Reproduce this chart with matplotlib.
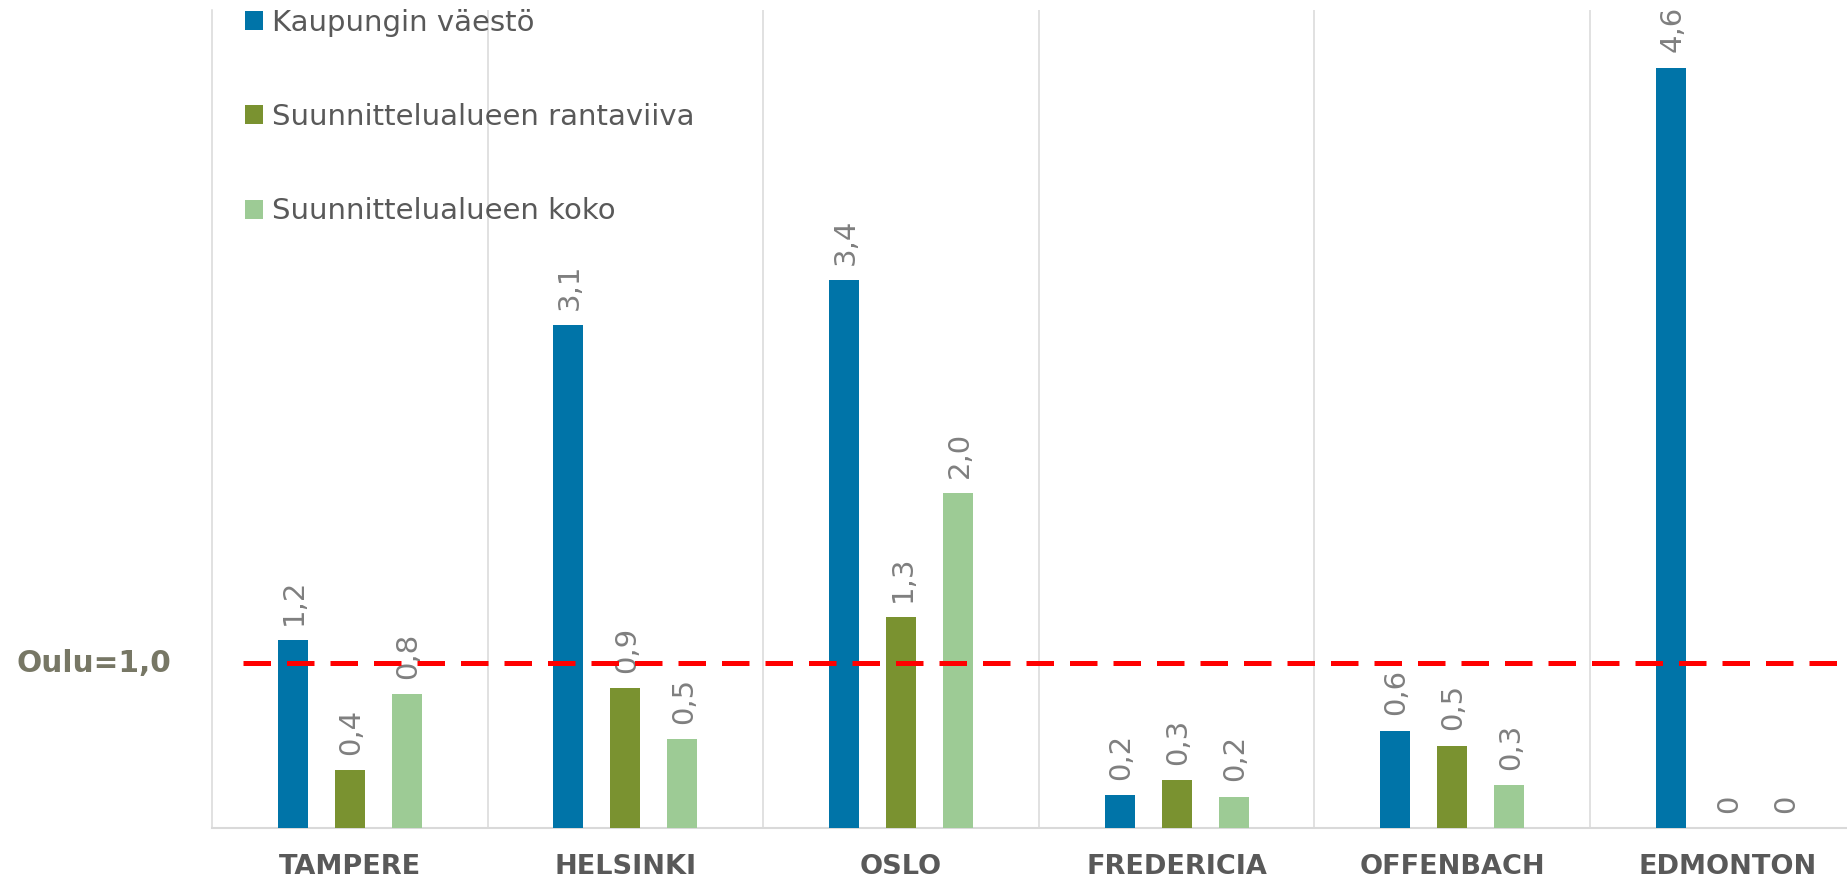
import matplotlib
matplotlib.use("Agg")
import matplotlib.pyplot as plt
import matplotlib.transforms as mtransforms
from matplotlib.patches import Patch
import numpy as np

# data (bar heights relative to Oulu = 1.0)
cities = ["TAMPERE", "HELSINKI", "OSLO", "FREDERICIA", "OFFENBACH", "EDMONTON"]
series_names = ["Kaupungin väestö", "Suunnittelualueen rantaviiva", "Suunnittelualueen koko"]
vaesto = [1.14, 3.05, 3.32, 0.20, 0.59, 4.61]
rantaviiva = [0.35, 0.85, 1.28, 0.29, 0.50, 0.0]
koko = [0.81, 0.54, 2.03, 0.19, 0.26, 0.0]
vaesto_labels = ["1,2", "3,1", "3,4", "0,2", "0,6", "4,6"]
rantaviiva_labels = ["0,4", "0,9", "1,3", "0,3", "0,5", "0"]
koko_labels = ["0,8", "0,5", "2,0", "0,2", "0,3", "0"]
oulu_level = 1.0

colors = ["#0074A8", "#7A9230", "#9DCB95"]
TEXT = "#595959"
LABEL = "#7F7F7F"
GRID = "#D9D9D9"

W, H = 1847, 881
fig = plt.figure(figsize=(W / 100, H / 100), dpi=100)
left, bottom, top = 212, 53, 10
cat_w = 275.6
ax = fig.add_axes([left / W, bottom / H, 6 * cat_w / W, (H - bottom - top) / H])

x = np.arange(len(cities))
width = 0.109
offset = 0.207
series = [
    (vaesto, vaesto_labels),
    (rantaviiva, rantaviiva_labels),
    (koko, koko_labels),
]
for i, ((vals, labs), color) in enumerate(zip(series, colors)):
    bars = ax.bar(x + (i - 1) * offset, vals, width, color=color, zorder=3)
    for rect, lab in zip(bars, labs):
        ax.annotate(lab, (rect.get_x() + rect.get_width() / 2, rect.get_height()),
                    xytext=(1, 11), textcoords="offset points", rotation=90,
                    ha="center", va="bottom", fontsize=21, color=LABEL)

ax.set_xlim(-0.5, len(cities) - 0.5)
ax.set_ylim(0, 4.96)
ax.vlines(np.arange(0.5, len(cities) - 0.5), 0, 4.96, color=GRID, lw=1.1, zorder=1)

# Oulu reference line
line_start = (243 - left) / cat_w - 0.5
ax.plot([line_start, len(cities)], [oulu_level, oulu_level], color="#FF0000",
        lw=3.6, dashes=(5.5, 3.2), zorder=4, clip_on=False)
trans = mtransforms.blended_transform_factory(fig.transFigure, ax.transData)
ax.text(16 / W, oulu_level, "Oulu=1,0", transform=trans, ha="left", va="center",
        fontsize=21.3, fontweight="bold", color="#777765")

ax.set_xticks(x)
ax.set_xticklabels(cities, fontsize=19.5, fontweight="bold", color=TEXT)
ax.tick_params(axis="x", length=0, pad=19)
ax.set_yticks([])
for side in ["top", "right"]:
    ax.spines[side].set_visible(False)
ax.spines["left"].set_color(GRID)
ax.spines["left"].set_linewidth(1.1)
ax.spines["bottom"].set_color(GRID)
ax.spines["bottom"].set_linewidth(1.5)

handles = [Patch(facecolor=c, edgecolor="none") for c in colors]
fig.legend(handles, series_names, loc="upper left",
           bbox_to_anchor=(245 / W, 1 - 9 / H), frameon=False, fontsize=21,
           labelcolor=TEXT, handlelength=0.62, handleheight=0.62,
           handletextpad=0.3, labelspacing=2.27, borderpad=0, borderaxespad=0)

fig.savefig("out.png", dpi=100)
